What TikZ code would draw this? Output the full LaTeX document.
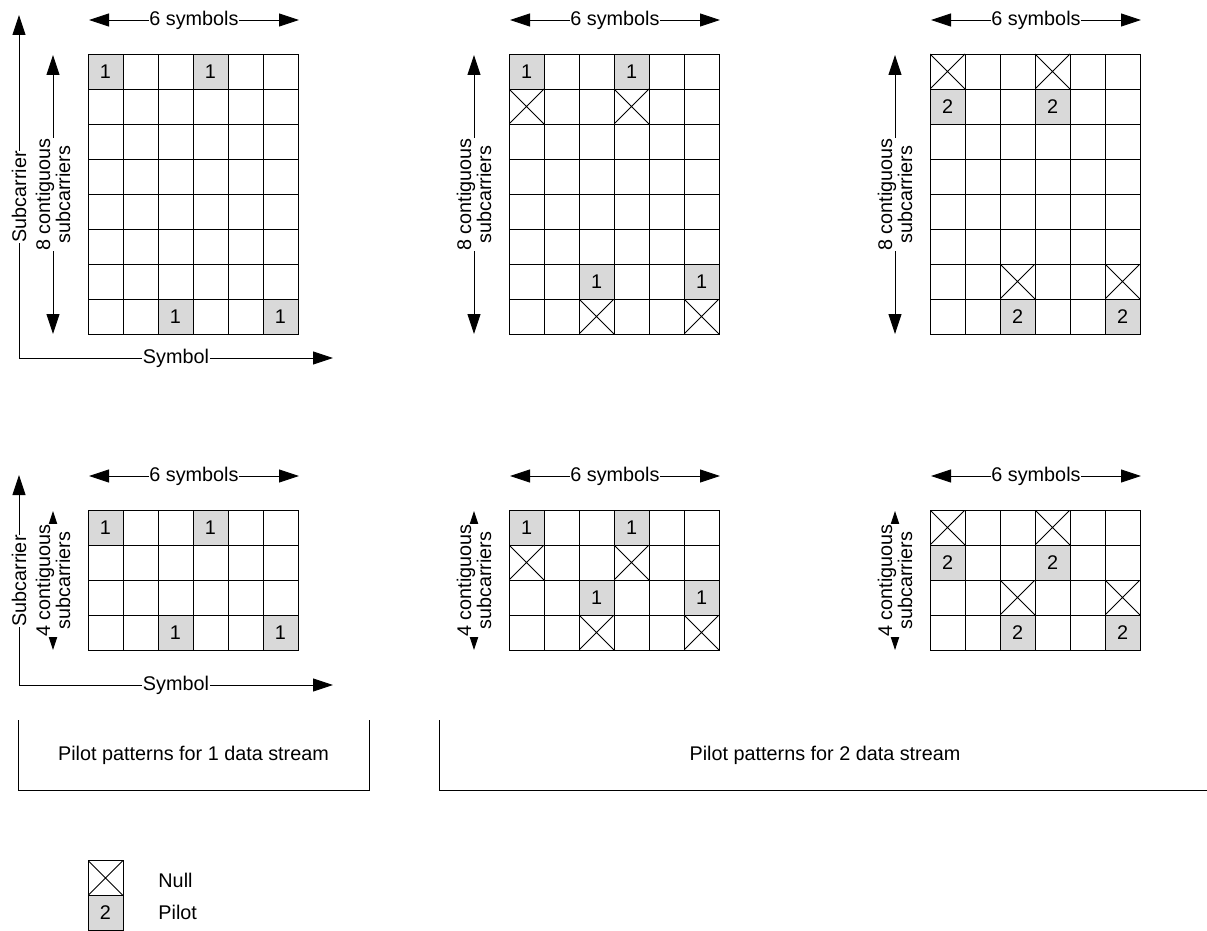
\documentclass[tikz,border=0pt]{standalone}
\usepackage{fontspec}
\setmainfont{Liberation Sans}
\usetikzlibrary{arrows.meta}
\definecolor{pilotgray}{RGB}{217,217,217}
\tikzset{
	cell/.style={draw, rectangle, minimum size=35pt, inner sep=0pt, outer sep=0pt},
	pilot/.style={cell, fill=pilotgray},
	nullcell/.style={cell, path picture={
		\draw (path picture bounding box.north west) -- (path picture bounding box.south east)
		      (path picture bounding box.south west) -- (path picture bounding box.north east);}},
	dimarrow/.style={<->, >={Triangle[length=20pt, width=13pt]}},
	lbl/.style={fill=white, inner sep=0.5pt},
}

\begin{document}
\begin{tikzpicture}[x=1pt, y=-1pt, line width=0.9pt, font=\fontsize{19.8}{20}\selectfont]
	\useasboundingbox (0,0) rectangle (1207,931);
	% grids with their size arrows
	\foreach \gx/\gy/\rows/\g in {88/54/8/a, 509/54/8/b, 930/54/8/c, 88/510/4/d, 509/510/4/e, 930/510/4/f} {
		\begin{scope}[shift={(\gx,\gy)}]
			\draw (0,35*\rows) grid[step=35pt] (210,0);
			\coordinate (\g-sl) at (1,-34);
			\coordinate (\g-sr) at (211,-34);
			\draw[dimarrow] (\g-sl) -- node[lbl] (\g-sym) {6 symbols} (\g-sr);
			\coordinate (\g-ct) at (-35,1);
			\coordinate (\g-cb) at (-35,35*\rows);
			\draw[dimarrow] (\g-ct) -- node[lbl, rotate=90, align=center] (\g-sub) {\rows{} contiguous\\subcarriers} (\g-cb);
		\end{scope}
	}
	% 1 data stream, 8 subcarriers
	\begin{scope}[shift={(88,54)}]
		\foreach \c/\r in {0/0, 3/0, 2/7, 5/7} \node[pilot] (a-\c-\r) at (17.5+35*\c,17.5+35*\r) {1};
	\end{scope}
	% 2 data streams, 8 subcarriers
	\begin{scope}[shift={(509,54)}]
		\foreach \c/\r in {0/0, 3/0, 2/6, 5/6} \node[pilot] (b-\c-\r) at (17.5+35*\c,17.5+35*\r) {1};
		\foreach \c/\r in {0/1, 3/1, 2/7, 5/7} \node[nullcell] (b-\c-\r) at (17.5+35*\c,17.5+35*\r) {};
	\end{scope}
	\begin{scope}[shift={(930,54)}]
		\foreach \c/\r in {0/1, 3/1, 2/7, 5/7} \node[pilot] (c-\c-\r) at (17.5+35*\c,17.5+35*\r) {2};
		\foreach \c/\r in {0/0, 3/0, 2/6, 5/6} \node[nullcell] (c-\c-\r) at (17.5+35*\c,17.5+35*\r) {};
	\end{scope}
	% 1 data stream, 4 subcarriers
	\begin{scope}[shift={(88,510)}]
		\foreach \c/\r in {0/0, 3/0, 2/3, 5/3} \node[pilot] (d-\c-\r) at (17.5+35*\c,17.5+35*\r) {1};
	\end{scope}
	% 2 data streams, 4 subcarriers
	\begin{scope}[shift={(509,510)}]
		\foreach \c/\r in {0/0, 3/0, 2/2, 5/2} \node[pilot] (e-\c-\r) at (17.5+35*\c,17.5+35*\r) {1};
		\foreach \c/\r in {0/1, 3/1, 2/3, 5/3} \node[nullcell] (e-\c-\r) at (17.5+35*\c,17.5+35*\r) {};
	\end{scope}
	\begin{scope}[shift={(930,510)}]
		\foreach \c/\r in {0/1, 3/1, 2/3, 5/3} \node[pilot] (f-\c-\r) at (17.5+35*\c,17.5+35*\r) {2};
		\foreach \c/\r in {0/0, 3/0, 2/2, 5/2} \node[nullcell] (f-\c-\r) at (17.5+35*\c,17.5+35*\r) {};
	\end{scope}
	% axes
	\coordinate (ax1-top) at (19,15);
	\coordinate (ax1-org) at (19,358);
	\coordinate (ax1-end) at (333,358);
	\draw[dimarrow] (ax1-top) -- node[lbl, rotate=90, pos=0.53] (ax1-sc) {Subcarrier} (ax1-org) -- node[lbl] (ax1-sy) {Symbol} (ax1-end);
	\coordinate (ax2-top) at (19,475);
	\coordinate (ax2-org) at (19,685);
	\coordinate (ax2-end) at (333,685);
	\draw[dimarrow] (ax2-top) -- node[lbl, rotate=90, pos=0.505] (ax2-sc) {Subcarrier} (ax2-org) -- node[lbl] (ax2-sy) {Symbol} (ax2-end);
	% brackets
	\coordinate (br1-a) at (18,720);
	\coordinate (br1-b) at (18,790);
	\coordinate (br1-c) at (369,790);
	\coordinate (br1-d) at (369,720);
	\draw (br1-a) -- (br1-b) -- (br1-c) -- (br1-d);
	\node (br1-txt) at (193.5,755) {Pilot patterns for 1 data stream};
	\coordinate (br2-a) at (439,720);
	\coordinate (br2-b) at (439,790);
	\coordinate (br2-c) at (1207,790);
	\draw (br2-a) -- (br2-b) -- (br2-c);
	\node (br2-txt) at (825,755) {Pilot patterns for 2 data stream};
	% legend
	\node[nullcell] (lg-null) at (105.5,878) {};
	\node[pilot] (lg-pilot) at (105.5,912.5) {2};
	\node[anchor=west, inner sep=0pt] (lg-nulltxt) at (158,880) {Null};
	\node[anchor=west, inner sep=0pt] (lg-pilottxt) at (158,912) {Pilot};
\end{tikzpicture}
\end{document}
